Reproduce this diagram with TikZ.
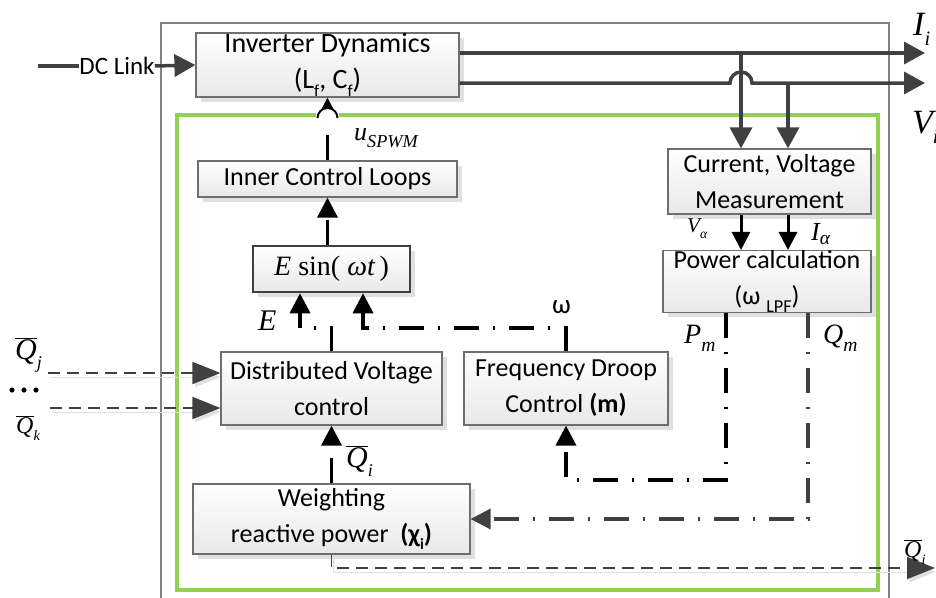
\documentclass[tikz,border=0pt]{standalone}
\usepackage{fontspec}
\setmainfont{Carlito}
\newfontfamily\tms{Liberation Serif}
\usepackage{graphicx}
\usetikzlibrary{arrows.meta,shadows}

\definecolor{linegray}{HTML}{404040}
\definecolor{boxedge}{HTML}{6E6E6E}
\definecolor{framegray}{HTML}{808080}
\definecolor{ctrlgreen}{HTML}{92D050}

% italic serif symbol and a lowered, reduced subscript
\newcommand\mi[1]{{\tms\itshape #1}}
\newcommand\lowsub[2][0.6]{\raisebox{-0.3em}{\scalebox{#1}{#2}}}
\newcommand\qb{\ensuremath{\overline{\hbox{\mi{Q}}}}}
\newcommand\fs[1]{\fontsize{#1}{#1}\selectfont}

\tikzset{
  blk/.style={draw=boxedge, line width=1.2pt, top color=white, bottom color=black!9,
    drop shadow={shadow xshift=5pt, shadow yshift=-5pt, fill=black!12, opacity=1},
    align=center, font=\fontsize{26}{36}\selectfont, inner sep=0pt},
  power/.style={draw=linegray, line width=3.5pt, -{Triangle[length=21pt,width=22pt]}},
  sig/.style={draw=black, line width=3.5pt, dash pattern=on 25pt off 14pt on 2pt off 14pt},
  sigtip/.style={-{Triangle[length=20pt,width=20pt]}},
  meastip/.style={draw=black, line width=3pt, -{Triangle[length=18pt,width=18pt]}},
  comm/.style={draw=linegray, line width=1.8pt, dash pattern=on 12pt off 7pt,
    -{Triangle[length=28pt,width=22pt]},
    preaction={draw=black!12, transform canvas={xshift=2pt,yshift=-4pt}}},
  lbl/.style={inner sep=0pt, anchor=base west},
}

\begin{document}
\begin{tikzpicture}[x=1pt, y=-1pt]
\useasboundingbox (0,0) rectangle (936,597);

% enclosures
\draw[framegray, line width=1.5pt] (161,23) rectangle (889,660);
\draw[ctrlgreen, line width=3.5pt] (177,115) rectangle (878,590);

% blocks
\node[blk, font=\fontsize{28}{36}\selectfont, minimum width=263pt, minimum height=64pt] (inv) at (327.5,65)
  {Inverter Dynamics\\(L\lowsub{f}, C\lowsub{f})};
\node[blk, minimum width=259pt, minimum height=36pt] (icl) at (327.5,179) {Inner Control Loops};
\node[blk, draw=linegray, line width=2.5pt, minimum width=157pt, minimum height=46pt,
  font=\tms\fontsize{28}{30}\selectfont] (esin) at (331.5,269) {\mi{E} sin( \mi{ωt\,})};
\node[blk, minimum width=221pt, minimum height=73pt] (dv) at (331.5,388.5) {Distributed Voltage\\control};
\node[blk, minimum width=204pt, minimum height=73pt] (fd) at (566,388.5) {Frequency Droop\\Control \textbf{(m)}};
\node[blk, minimum width=277pt, minimum height=70pt] (wr) at (331.5,519)
  {Weighting\\reactive power\ \ \textbf{(χ\lowsub{i})}};
\node[blk, minimum width=203pt, minimum height=65pt] (meas) at (769.5,181.5) {Current, Voltage\\Measurement};
\node[blk, minimum width=208pt, minimum height=61pt] (pc) at (767,281.5) {Power calculation\\(ω \lowsub[0.7]{LPF})};

% DC link input
\coordinate (dcin) at (38,66);
\node[inner sep=0pt, font=\fs{25}] (dcl) at (117,66) {DC Link};
\draw[linegray, line width=3.5pt] (dcin) -- (dcl.west);
\draw[power] (dcl.east) -- (inv.west);

% inverter outputs and measurement taps
\coordinate (iout) at (925,53);
\coordinate (vout) at (925,83);
\coordinate (ti) at (741,53);
\coordinate (tv) at (788,83);
\coordinate (hop) at (741,83);
\draw[power] (inv.east |- iout) -- (iout);
\draw[power] (inv.east |- vout) -- ([xshift=-11pt]hop) arc[start angle=180, end angle=360, radius=11] -- (vout);
\draw[power] (ti) -- (ti |- meas.north);
\draw[power] (tv) -- (tv |- meas.north);
\node[lbl, font=\tms\itshape\fs{34}] at (913,35) {I\lowsub{i}};
\node[lbl, font=\tms\itshape\fs{34}] at (912,133) {V\lowsub{i}};

% measurement to power calculation
\draw[meastip] (ti |- meas.south) -- (ti |- pc.north);
\draw[meastip] (tv |- meas.south) -- (tv |- pc.north);
\node[lbl, font=\tms\itshape\fs{21}] at (687,232) {V\lowsub[0.65]{α}};
\node[lbl, font=\tms\itshape\fs{26}] at (811,240) {I\raisebox{-0.18em}{\scalebox{0.75}{α}}};

% modulation signal to the inverter, hopping over the control boundary
\draw[sig, sigtip] (icl.north) -- (icl.north |- inv.south);
\fill[white] (316,109) rectangle (339,121);
\draw[black, line width=2pt] (317.5,118) arc[start angle=180, end angle=360, radius=10];
\node[lbl, font=\tms\itshape\fs{26}] at (354,140) {u\lowsub[0.7]{SPWM}};

% reference voltage to inner loops
\draw[sig, sigtip] (esin.north -| icl.north) -- (icl.south);

% amplitude and frequency references
\coordinate (ec) at (300,328);
\coordinate (wc) at (363,328);
\draw[sig, sigtip] (dv.north) |- (ec) -- (ec |- esin.south);
\draw[sig, sigtip] (fd.north) |- (wc) -- (wc |- esin.south);
\node[lbl, font=\tms\itshape\fs{30}] at (258,330) {E};
\node[lbl, font=\fs{27}] at (552,313) {ω};

% measured powers
\coordinate (pm) at (726,480);
\coordinate (qm) at (808,519);
\draw[sig, sigtip] (pm |- pc.south) -- (pm) -| (fd.south);
\draw[sig, draw=linegray, sigtip] (qm |- pc.south) -- (qm) -- (wr.east);
\node[lbl, font=\tms\itshape\fs{28}] at (684,343) {P\lowsub[0.7]{m}};
\node[lbl, font=\tms\itshape\fs{28}] at (823,343) {Q\lowsub[0.7]{m}};

% weighted reactive power
\draw[sig, sigtip] (wr.north) -- (dv.south);
\node[lbl, font=\fs{30}] at (346,467) {\qb\lowsub[0.6]{\mi{i}}};

% exchanged reactive power (communication links)
\coordinate (qo) at (935,568);
\coordinate (qj) at (48,373);
\coordinate (qk) at (50,408);
\draw[comm] (wr.south) |- (qo);
\draw[comm] (qj) -- (qj -| dv.west);
\draw[comm] (qk) -- (qk -| dv.west);
\node[lbl, font=\fs{30}] at (15,359) {\qb\lowsub[0.6]{\mi{j}}};
\node[lbl, font=\fs{24}] at (16,433) {\qb\lowsub[0.6]{\mi{k}}};
\node[lbl, font=\fs{24}] at (904,557) {\qb\lowsub[0.6]{\mi{i}}};
\foreach \dx in {0,12,24} \fill (12+\dx,390) circle (2.6);
\end{tikzpicture}
\end{document}
